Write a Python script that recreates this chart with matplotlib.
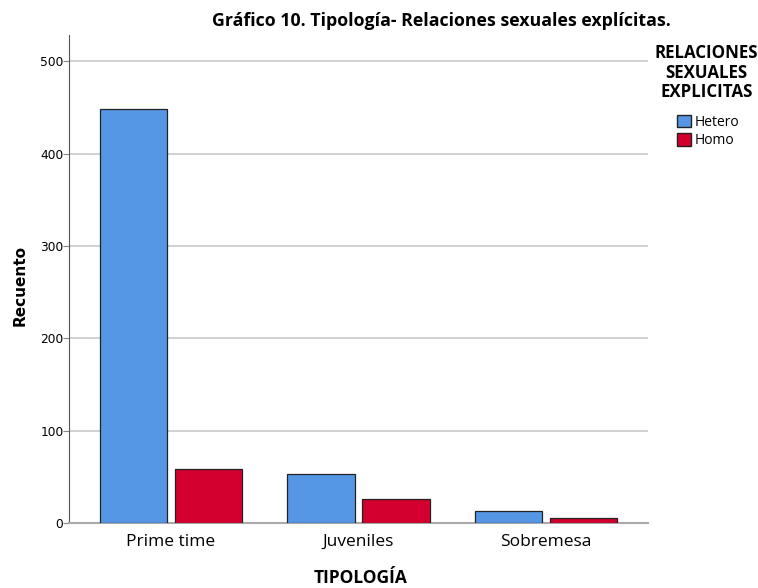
import matplotlib.pyplot as plt
import numpy as np
from matplotlib.patches import Patch

categories = ["Prime time", "Juveniles", "Sobremesa"]
hetero = [448, 53, 13]
homo = [58, 26, 5]
series_names = ["Hetero", "Homo"]
colors = ["#5596e5", "#d3002f"]

SANS = ["Open Sans", "DejaVu Sans"]
COND = dict(family=SANS, fontstretch="condensed", fontweight="bold")

fig = plt.figure(figsize=(7.58, 5.88), dpi=100)
ax = fig.add_axes([0.091, 0.1105, 0.764, 0.8295])

x = np.arange(len(categories))
width = 0.36
for vals, off, c in zip([hetero, homo], [-0.2, 0.2], colors):
    ax.bar(x + off, vals, width, color=c, edgecolor="#222222", linewidth=0.9, zorder=3)

ax.set_xlim(-0.544, 2.544)
ax.set_ylim(0, 528)
ax.set_yticks([0, 100, 200, 300, 400, 500])
ax.set_xticks(x, categories)
ax.grid(axis="y", color="#c8c8c8", linewidth=1.2, zorder=0)
ax.tick_params(axis="y", labelsize=8.8, length=4, color="#888888", pad=0)
ax.tick_params(axis="x", labelsize=12.5, length=0, pad=8)
for lbl in ax.get_xticklabels():
    lbl.set_fontfamily(SANS)

for s in ["top", "right"]:
    ax.spines[s].set_visible(False)
ax.spines["left"].set_color("#555555")
ax.spines["bottom"].set_color("#aaaaaa")
ax.spines["bottom"].set_linewidth(1.5)

fig.text(0.027, 0.515, "Recuento", rotation=90, ha="center", va="center",
         fontsize=11, fontweight="bold")
fig.text(0.476, 0.017, "TIPOLOGÍA", ha="center", va="center", fontsize=12.5, **COND)
fig.text(0.582, 0.964, "Gráfico 10. Tipología- Relaciones sexuales explícitas.",
         ha="center", va="center", fontsize=12.8, **COND)

# legend heading drawn separately so its spacing can be controlled
fig.text(0.932, 0.925, "RELACIONES\nSEXUALES\nEXPLICITAS", ha="center", va="top",
         multialignment="center", linespacing=1.1, fontsize=12.2, **COND)

handles = [Patch(facecolor=c, edgecolor="#222222", label=n) for c, n in zip(colors, series_names)]
leg = fig.legend(handles=handles, loc="upper left", bbox_to_anchor=(0.893, 0.805),
                 frameon=False, fontsize=10, handlelength=1.0, handleheight=1.0,
                 handletextpad=0.25, labelspacing=0.25, borderpad=0.0, borderaxespad=0)
for t in leg.get_texts():
    t.set_family(SANS)

fig.savefig("out.png", dpi=100)
